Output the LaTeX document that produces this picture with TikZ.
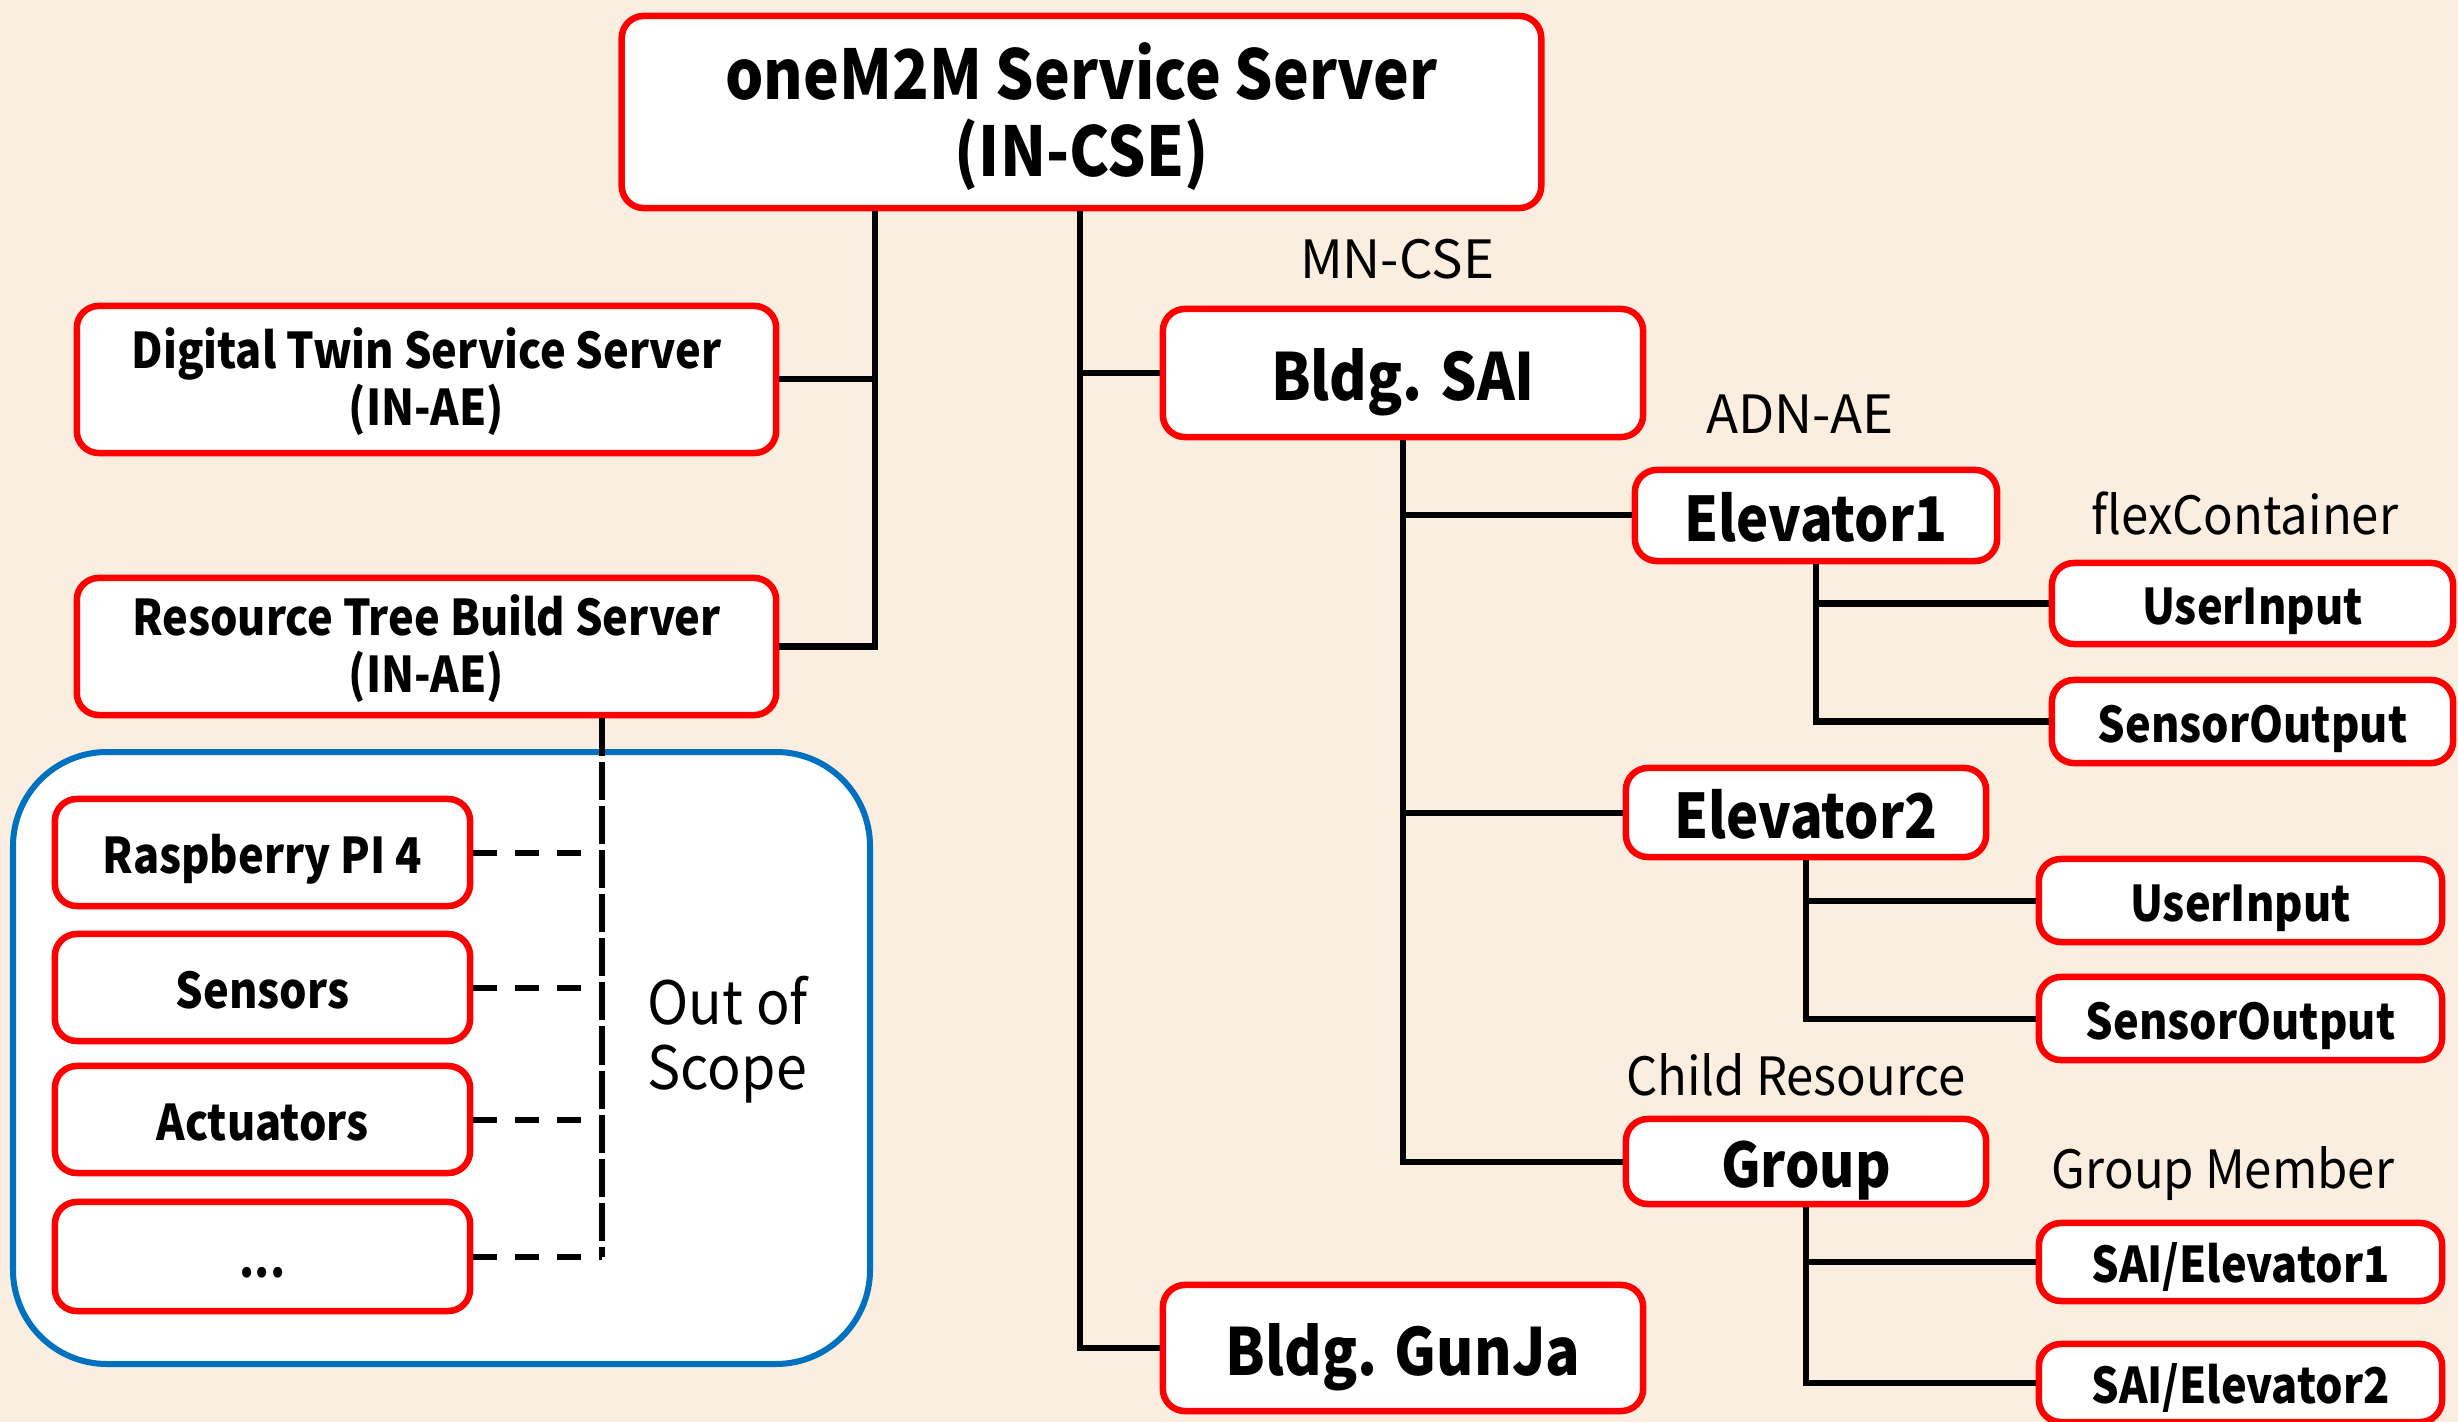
\documentclass[tikz,border=0pt]{standalone}
\usepackage{fontspec}
\setmainfont{Noto Sans CJK KR}[BoldFeatures={FakeStretch=0.88}]
\newfontfamily\lblfont{Noto Sans CJK KR}[FakeStretch=0.93]
\newfontfamily\lblwide{Noto Sans CJK KR}
\definecolor{bgc}{HTML}{FAEEE0}
\definecolor{boxred}{HTML}{FF0000}
\definecolor{scopeblue}{HTML}{0070C0}
\tikzset{
  rbox/.style={draw=boxred, line width=0.065cm, fill=white, rounded corners=0.22cm, inner sep=0pt, align=center},
  bigtxt/.style={font=\bfseries\fontsize{18.5}{21}\selectfont, text height=16.5pt, text depth=0.9pt},
  toptxt/.style={font=\bfseries\fontsize{19.5}{22}\selectfont, text height=38pt, text depth=1.2pt},
  twotxt/.style={font=\bfseries\fontsize{14}{16.2}\selectfont, text height=27.4pt, text depth=1.4pt},
  midtxt/.style={font=\bfseries\fontsize{17.5}{20}\selectfont, text height=15.5pt, text depth=0.8pt},
  smalltxt/.style={font=\bfseries\fontsize{14}{16.5}\selectfont, text height=12.6pt, text depth=0.8pt},
  lbl/.style={font=\lblfont\fontsize{15}{18}\selectfont, inner sep=0pt},
  conn/.style={line width=0.06cm, black},
  vdash/.style={line width=0.06cm, black, dash pattern=on 0.38cm off 0.06cm},
  hdash/.style={line width=0.06cm, black, dash pattern=on 0.24cm off 0.18cm},
}
\begin{document}
\begin{tikzpicture}[x=0.01cm, y=-0.01cm]
\fill[bgc] (0,0) rectangle (2458,1422);
\useasboundingbox (0,0) rectangle (2458,1422);

% scope area
\draw[scopeblue, line width=0.06cm, fill=white, rounded corners=0.94cm] (13,752) rectangle (870,1364);

% nodes
\node[rbox, toptxt, minimum width=9.19cm, minimum height=1.92cm] (top) at (1081.5,112) {oneM2M Service Server\\(IN-CSE)};
\node[rbox, twotxt, minimum width=6.99cm, minimum height=1.47cm] (dt) at (426.5,379.5) {Digital Twin Service Server\\(IN-AE)};
\node[rbox, twotxt, minimum width=6.99cm, minimum height=1.37cm] (rtb) at (426.5,646.5) {Resource Tree Build Server\\(IN-AE)};
\node[rbox, bigtxt, minimum width=4.80cm, minimum height=1.28cm] (sai) at (1403,373) {Bldg. SAI};
\node[rbox, bigtxt, minimum width=4.80cm, minimum height=1.26cm] (gunja) at (1403,1348) {Bldg. GunJa};

\node[rbox, smalltxt, minimum width=4.15cm, minimum height=1.07cm] (rpi) at (262.5,852.5) {Raspberry PI 4};
\node[rbox, smalltxt, minimum width=4.15cm, minimum height=1.07cm] (sens) at (262.5,987.5) {Sensors};
\node[rbox, smalltxt, minimum width=4.15cm, minimum height=1.07cm] (act) at (262.5,1119.5) {Actuators};
\node[rbox, smalltxt, minimum width=4.15cm, minimum height=1.09cm] (dots) at (262.5,1256.5) {...};

\node[rbox, midtxt, minimum width=3.62cm, minimum height=0.91cm] (e1) at (1816,515.5) {Elevator1};
\node[rbox, smalltxt, minimum width=4.01cm, minimum height=0.81cm] (ui1) at (2252.5,603.5) {UserInput};
\node[rbox, smalltxt, minimum width=4.01cm, minimum height=0.83cm] (so1) at (2252.5,721.5) {SensorOutput};

\node[rbox, midtxt, minimum width=3.60cm, minimum height=0.89cm] (e2) at (1806,812.5) {Elevator2};
\node[rbox, smalltxt, minimum width=4.03cm, minimum height=0.83cm] (ui2) at (2240.5,900.5) {UserInput};
\node[rbox, smalltxt, minimum width=4.03cm, minimum height=0.83cm] (so2) at (2240.5,1018.5) {SensorOutput};

\node[rbox, midtxt, minimum width=3.60cm, minimum height=0.85cm] (grp) at (1806,1161.5) {Group};
\node[rbox, smalltxt, minimum width=4.03cm, minimum height=0.78cm] (se1) at (2240.5,1262) {SAI/Elevator1};
\node[rbox, smalltxt, minimum width=4.03cm, minimum height=0.78cm] (se2) at (2240.5,1383) {SAI/Elevator2};

% labels
\node[lbl, font=\lblwide\fontsize{15}{18}\selectfont] (lmn) at (1397,259) {MN-CSE};
\node[lbl, font=\lblwide\fontsize{15}{18}\selectfont] (ladn) at (1800,414) {ADN-AE};
\node[lbl] (lflex) at (2245,514) {flexContainer};
\node[lbl] (lchild) at (1796,1075) {Child Resource};
\node[lbl] (lgm) at (2223,1174) {Group Member};
\node[lbl, font=\lblfont\fontsize{17}{18.5}\selectfont, align=left, anchor=west] (loos) at (647,1040) {Out of\\Scope};

% junction coordinates
\coordinate (j1) at (875,0);
\coordinate (j2) at (1080,0);
\coordinate (j3) at (602,0);

% connectors
\draw[conn] (top.south -| j1) |- (rtb.east);
\draw[conn] (dt.east) -- (dt.east -| j1);
\draw[conn] (top.south -| j2) |- (gunja.west);
\draw[conn] (sai.west) -- (sai.west -| j2);

\draw[conn] (sai.south) |- (grp.west);
\draw[conn] (sai.south |- e1.west) -- (e1.west);
\draw[conn] (sai.south |- e2.west) -- (e2.west);

\draw[conn] (e1.south) |- (so1.west);
\draw[conn] (e1.south |- ui1.west) -- (ui1.west);
\draw[conn] (e2.south) |- (so2.west);
\draw[conn] (e2.south |- ui2.west) -- (ui2.west);
\draw[conn] (grp.south) |- (se2.west);
\draw[conn] (grp.south |- se1.west) -- (se1.west);

\draw[vdash] (rtb.south -| j3) -- (dots.east -| j3);
\draw[hdash] (rpi.east) -- (rpi.east -| j3);
\draw[hdash] (sens.east) -- (sens.east -| j3);
\draw[hdash] (act.east) -- (act.east -| j3);
\draw[hdash] (dots.east) -- (dots.east -| j3);
\end{tikzpicture}
\end{document}
